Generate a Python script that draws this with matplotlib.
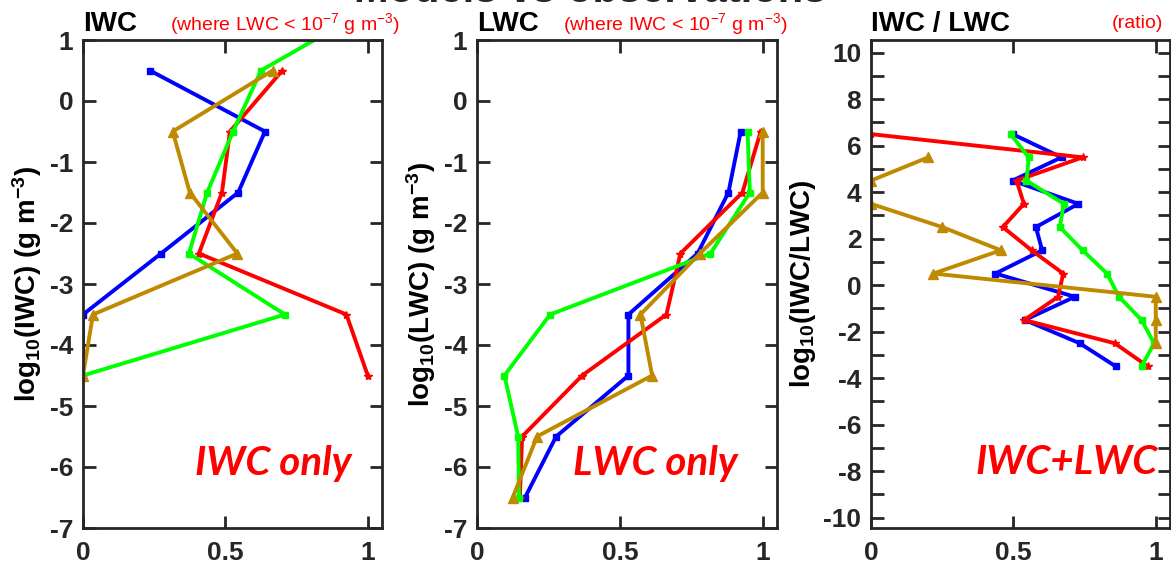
import matplotlib
matplotlib.use("Agg")
import matplotlib.pyplot as plt
import numpy as np

plt.rcParams['font.family'] = ['Liberation Sans', 'DejaVu Sans']
plt.rcParams['mathtext.default'] = 'regular'
plt.rcParams['axes.unicode_minus'] = False

# ---------------- data ----------------
# Panel 1: IWC only  (levels of log10 IWC)
iwc_levels = [1.5, 0.5, -0.5, -1.5, -2.5, -3.5, -4.5]
iwc_blue   = [np.nan, 0.235, 0.639, 0.545, 0.274, 0.0, 0.0]
iwc_red    = [np.nan, 0.70, 0.516, 0.488, 0.407, 0.925, 1.0]
iwc_green  = [1.0, 0.625, 0.527, 0.436, 0.372, 0.709, 0.0]
iwc_brown  = [np.nan, 0.666, 0.315, 0.375, 0.542, 0.035, 0.0]

# Panel 2: LWC only
lwc_levels = [-0.5, -1.5, -2.5, -3.5, -4.5, -5.5, -6.5]
lwc_blue   = [0.923, 0.880, 0.772, 0.530, 0.530, 0.277, 0.168]
lwc_red    = [0.993, 0.929, 0.712, 0.663, 0.368, 0.158, 0.150]
lwc_green  = [0.947, 0.955, 0.817, 0.256, 0.096, 0.144, 0.147]
lwc_brown  = [1.0, 1.0, 0.780, 0.572, 0.613, 0.210, 0.125]

# Panel 3: IWC/LWC ratio
rat_levels = [6.5, 5.5, 4.5, 3.5, 2.5, 1.5, 0.5, -0.5, -1.5, -2.5, -3.5]
rat_blue   = [0.497, 0.669, 0.497, 0.728, 0.579, 0.601, 0.437, 0.716, 0.540, 0.733, 0.860]
rat_red    = [0.0, 0.743, 0.511, 0.537, 0.463, 0.564, 0.675, 0.657, 0.538, 0.856, 0.973]
rat_green  = [0.490, 0.554, 0.546, 0.677, 0.663, 0.743, 0.829, 0.871, 0.950, 0.994, 0.950]
rat_brown  = [np.nan, 0.201, 0.0, 0.0, 0.250, 0.456, 0.219, 1.0, 1.0, 1.0, np.nan]

BLUE, RED, GREEN, BROWN = '#0000FF', '#FF0000', '#00FF00', '#BF8A00'
series_style = [(BLUE, 's', 4), (RED, '*', 6), (GREEN, 's', 4), (BROWN, '^', 7)]

W, H = 1171, 569
fig = plt.figure(figsize=(W / 100, H / 100), dpi=100)

def ax_rect(l, r, t, b):
    return [l / W, 1 - b / H, (r - l) / W, (b - t) / H]

axes = [fig.add_axes(ax_rect(83, 382, 40, 528)),
        fig.add_axes(ax_rect(477, 777, 40, 528)),
        fig.add_axes(ax_rect(871, 1170, 40, 528))]

panels = [
    (iwc_levels, [iwc_blue, iwc_red, iwc_green, iwc_brown]),
    (lwc_levels, [lwc_blue, lwc_red, lwc_green, lwc_brown]),
    (rat_levels, [rat_blue, rat_red, rat_green, rat_brown]),
]

for ax, (lev, ser) in zip(axes, panels):
    for vals, (c, m, ms) in zip(ser, series_style):
        ax.plot(vals, lev, color=c, lw=2.8, marker=m, ms=ms, mec=c, mfc=c)
    ax.set_xlim(0, 1.05)
    ax.set_xticks([0, 0.5, 1])
    ax.set_xticklabels(['0', '0.5', '1'])
    for sp in ax.spines.values():
        sp.set_linewidth(2)
        sp.set_color('#262626')
    ax.tick_params(direction='in', length=9, width=2, color='#262626',
                   top=True, right=True, labelsize=19, labelcolor='#262626',
                   pad=7)
    ax.tick_params(axis='x', pad=9)

for ax in axes[:2]:
    ax.set_ylim(-7, 1)
    ax.set_yticks(range(-7, 2))

axes[2].set_ylim(-10.45, 10.55)
axes[2].set_yticks(range(-10, 11, 2))
axes[2].set_yticks(range(-9, 11, 2), minor=True)
axes[2].tick_params(which='minor', direction='in', length=9, width=2,
                    color='#262626', right=True, left=True)

for ax in axes:
    for lab in ax.get_xticklabels() + ax.get_yticklabels():
        lab.set_fontweight('bold')

ylabels = ['log$_{10}$(IWC) (g m$^{-3}$)', 'log$_{10}$(LWC) (g m$^{-3}$)',
           'log$_{10}$(IWC/LWC)']
for ax, yl in zip(axes, ylabels):
    ax.set_ylabel(yl, fontsize=20, fontweight='bold', color='black', labelpad=4)

# titles
ty = 1 - 24 / H
fig.text(83 / W, ty, 'IWC', fontsize=20, fontweight='bold', va='center', ha='left')
fig.text(170 / W, ty, '(where LWC < 10$^{-7}$ g m$^{-3}$)', fontsize=14,
         color=RED, va='center', ha='left')
fig.text(477 / W, ty, 'LWC', fontsize=20, fontweight='bold', va='center', ha='left')
fig.text(563 / W, ty, '(where IWC < 10$^{-7}$ g m$^{-3}$)', fontsize=14,
         color=RED, va='center', ha='left')
fig.text(871 / W, ty, 'IWC / LWC', fontsize=20, fontweight='bold', va='center', ha='left')
fig.text(1163 / W, ty, '(ratio)', fontsize=14, color=RED, va='center', ha='right')

# partially clipped super-title
fig.text(590 / W, 1 - 1.5 / H, 'Models vs observations', fontsize=30, fontweight='bold',
         color='#262626', ha='center', va='baseline')

# in-panel labels
inner = [('IWC only', 195), ('LWC only', 573), ('IWC+LWC', 975)]
for txt, x in inner:
    fig.text(x / W, 1 - 463 / H, txt, fontsize=29, fontweight='bold', style='italic',
             color=RED, family=['Lato', 'DejaVu Sans'], ha='left', va='center')

fig.savefig('out.png', dpi=100)
